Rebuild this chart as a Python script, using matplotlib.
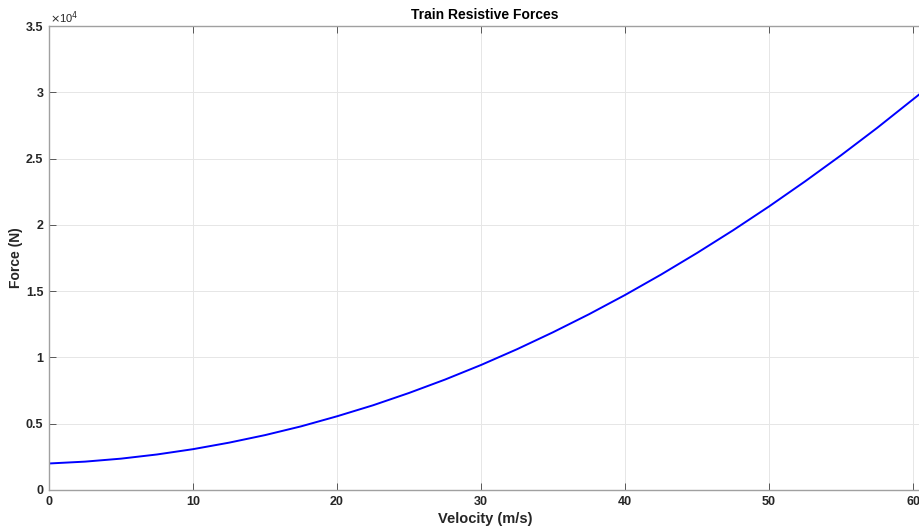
import matplotlib
matplotlib.use("Agg")
import matplotlib.pyplot as plt
from matplotlib.ticker import FuncFormatter

plt.rcParams['font.family'] = ['Liberation Sans', 'DejaVu Sans']

velocity = [0, 2.5, 5, 7.5, 10, 12.5, 15, 17.5, 20, 22.5, 25, 27.5, 30, 32.5, 35,
            37.5, 40, 42.5, 45, 47.5, 50, 52.5, 55, 57.5, 60, 60.5]
force = [2000, 2140, 2365, 2680, 3080, 3570, 4140, 4800, 5560, 6390, 7320, 8330,
         9430, 10620, 11900, 13260, 14710, 16250, 17880, 19590, 21390, 23280,
         25250, 27310, 29470, 29900]
xticks = [0, 10, 20, 30, 40, 50, 60]
yticks = [0, 5000, 10000, 15000, 20000, 25000, 30000, 35000]

W, H = 920, 531
fig = plt.figure(figsize=(W/100, H/100), dpi=100)
ax = fig.add_axes([49/W, 41/H, (921-49)/W, 464/H])

ax.plot(velocity, force, color=(0, 0, 1), linewidth=1.4, solid_joinstyle='round')
ax.set_xlim(0, 60.55)
ax.set_ylim(0, 35000)
ax.set_xticks(xticks)
ax.set_yticks(yticks)
ax.yaxis.set_major_formatter(FuncFormatter(lambda v, p: ('%g' % (v/1e4))))

axc = '#262626'
for s in ['left', 'bottom', 'top', 'right']:
    ax.spines[s].set_color('#a0a0a0')
    ax.spines[s].set_linewidth(1.0)
ax.spines['right'].set_visible(False)
ax.tick_params(direction='in', length=5, width=0.6, color='#404040', top=True, right=False,
               labelsize=9, labelcolor=axc, pad=4)
for lab in ax.get_xticklabels() + ax.get_yticklabels():
    lab.set_fontweight('bold')
ax.grid(True, color='#e6e6e6', linewidth=0.7)
ax.set_axisbelow(True)

ax.set_xlabel('Velocity (m/s)', fontsize=10.5, fontweight='bold', color=axc, labelpad=3)
ax.set_ylabel('Force (N)', fontsize=10, fontweight='bold', color=axc, labelpad=2)
ax.set_title('Train Resistive Forces', fontsize=10, fontweight='bold', color='black', pad=5)
fig.text(50/W, 1 - 18/H, r'$\times$10$^{4}$', fontsize=8, color=axc, va='center', ha='left')

fig.savefig('out.png', dpi=100)
